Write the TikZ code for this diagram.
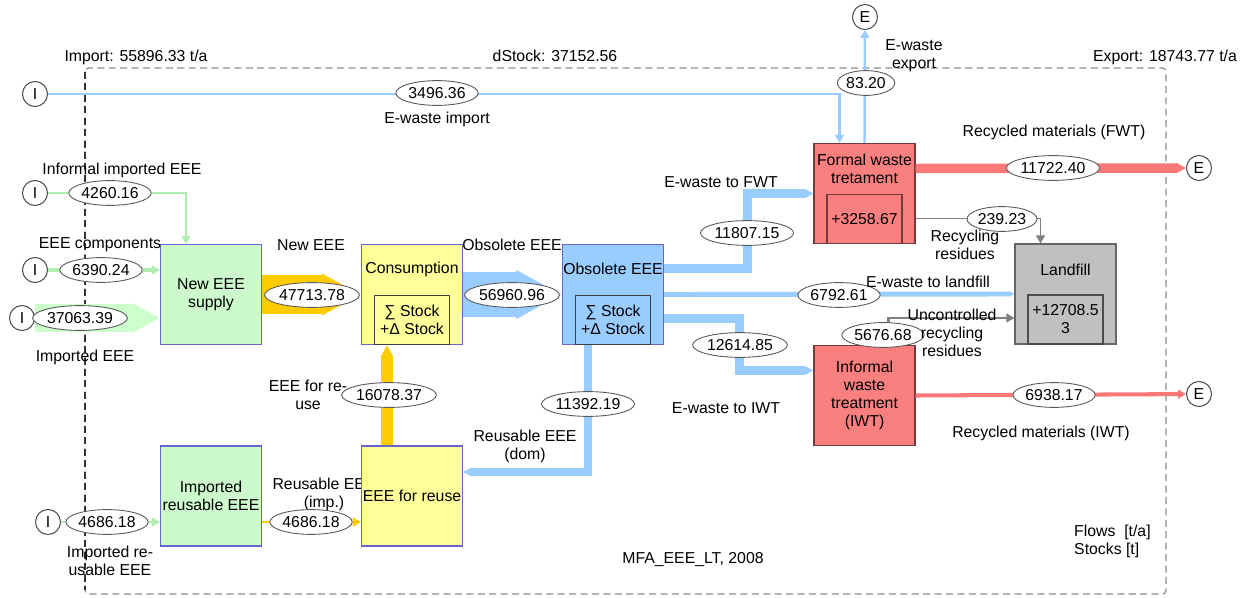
\documentclass[tikz,border=0pt]{standalone}
\usepackage{fontspec}
\setmainfont{Liberation Sans}
\usetikzlibrary{shapes.geometric,arrows.meta,calc}

\definecolor{boxgreen}{RGB}{204,250,204}
\definecolor{boxyellow}{RGB}{255,255,153}
\definecolor{boxblue}{RGB}{153,204,255}
\definecolor{boxred}{RGB}{250,128,128}
\definecolor{boxgray}{RGB}{192,192,192}
\definecolor{edgeblue}{RGB}{102,102,204}
\definecolor{edgered}{RGB}{110,60,60}
\definecolor{flowblue}{RGB}{153,204,255}
\definecolor{flowyellow}{RGB}{255,204,0}
\definecolor{flowgreen}{RGB}{204,255,204}
\definecolor{flowgreenl}{RGB}{175,238,175}
\definecolor{flowred}{RGB}{250,120,120}
\definecolor{flowgray}{RGB}{128,128,128}

\tikzset{
  procbox/.style={draw=edgeblue, line width=0.7pt, minimum width=2.02cm,
    minimum height=2cm, inner sep=0pt, align=center},
  stockbox/.style={draw=black!75, line width=0.7pt, minimum width=1.5cm,
    minimum height=0.98cm, inner sep=0pt, align=center, anchor=south},
  val/.style={ellipse, draw=black!65, fill=white, line width=0.5pt,
    inner xsep=0.3pt, inner ysep=1.8pt},
  port/.style={circle, draw=black!70, line width=0.6pt, minimum size=0.5cm,
    inner sep=0pt},
  bandtip/.style={-{Triangle[width=0pt 1,length=0pt 1]}},
  thintip/.style={-{Triangle[width=5pt,length=4.5pt]}},
}

\begin{document}
\begin{tikzpicture}[x=0.02cm, y=-0.02cm,
    every node/.style={font=\fontsize{9}{10.2}\selectfont}]
\useasboundingbox (0,0) rectangle (1245,598);

% system boundary
\draw[black!45, line width=0.7pt, dash pattern=on 4pt off 2.5pt, rounded corners=2pt]
    (85,68) rectangle (1166,594);
\draw[black!80, line width=0.7pt, dash pattern=on 4pt off 2.5pt] (85,72) -- (85,590);
\node at (136,57) {Import: 55896.33 t/a};
\node at (555,56) {dStock: 37152.56};
\node at (1165,57) {Export: 18743.77 t/a};

\node[align=center] (lreimp) at (324,494) {Reusable EEE\\(imp.)};

% processes
\node[procbox, fill=boxgreen] (newsup) at (211,294.5) {New EEE\\supply};
\node[procbox, fill=boxyellow] (cons) at (412,294.5) {};
\node (tcons) at ($(cons.north)+(0,26)$) {Consumption};
\node[stockbox, fill=boxyellow] (scons) at (cons.south) {∑ Stock\\+Δ Stock};
\node[procbox, fill=boxblue] (obs) at (613,294.5) {};
\node (tobs) at ($(obs.north)+(0,25)$) {Obsolete EEE};
\node[stockbox, fill=boxblue] (sobs) at (obs.south) {∑ Stock\\+Δ Stock};
\node[procbox, draw=edgered, fill=boxred] (fwt) at (864.5,193.5) {};
\node[align=center] (tfwt) at ($(fwt.north)+(0,26)$) {Formal waste\\tretament};
\node[stockbox, draw=edgered, fill=boxred] (sfwt) at (fwt.south) {+3258.67};
\node[procbox, draw=black!60, fill=boxgray] (land) at (1065.5,294) {};
\node (tland) at ($(land.north)+(0,26)$) {Landfill};
\node[stockbox, draw=black!70, fill=boxgray] (sland) at (land.south) {+12708.5\\3};
\node[procbox, draw=edgered, fill=boxred] (iwt) at (864.5,395.5)
    {Informal\\waste\\treatment\\(IWT)};
\node[procbox, fill=boxgreen] (irb) at (211,496) {Imported\\reusable EEE};
\node[procbox, fill=boxyellow] (reuse) at (412,496) {EEE for reuse};

% import and export
\node[port] (i1) at (35,94) {I};
\node[port] (i2) at (35,193) {I};
\node[port] (i3) at (35,270) {I};
\node[port] (i4) at (22,318) {I};
\node[port] (i5) at (48,522) {I};
\node[port] (e1) at (865,17) {E};
\node[port] (e2) at (1199,168) {E};
\node[port] (e3) at (1199,394) {E};

% flows
\draw[flowblue, line width=1.4pt, thintip] (i1) -| ($(fwt.north)+(-25,0)$);
\draw[flowblue, line width=1.4pt, thintip] (fwt.north) -- (e1);
\draw[flowgreenl, line width=1.3pt, thintip] (i2) -| ($(newsup.north)+(-25,0)$);
\draw[flowgreenl, line width=2.2pt, thintip] (i3) -- (newsup.west |- i3);
\draw[flowgreen, line width=16pt, bandtip] (i4) -- (newsup.west |- i4);
\draw[flowyellow, line width=22pt, bandtip] (newsup.east) -- (cons.west);
\draw[flowblue, line width=26pt, bandtip] (cons.east) -- (obs.west);
\draw[flowblue, line width=5pt, bandtip] ($(obs.east)+(0,-26)$)
    -| ($(fwt.west)+(-66,0)$) -- (fwt.west);
\draw[flowblue, line width=2.8pt, bandtip] (obs.east) -- (land.west);
\draw[flowblue, line width=5pt, bandtip] ($(obs.east)+(0,24)$)
    -| ($(iwt.west)+(-74,-25)$) -- ($(iwt.west)+(0,-25)$);
\draw[flowblue, line width=4.5pt, bandtip] ($(obs.south)+(-25,0)$)
    |- ($(reuse.east)+(0,-24)$);
\draw[flowyellow, line width=6.3pt, bandtip] ($(reuse.north)+(-25,0)$)
    -- ($(cons.south)+(-25,0)$);
\draw[flowyellow, line width=1.7pt, thintip] ($(irb.east)+(0,26)$)
    -- ($(reuse.west)+(0,26)$);
\draw[flowgreenl, line width=1.3pt, thintip] (i5) -- ($(irb.west)+(0,26)$);
\draw[flowred, line width=5.4pt, bandtip] ($(fwt.east)+(0,-25)$) -- (e2);
\draw[flowred, line width=2.3pt, thintip] (iwt.east) -- (e3);
\draw[flowgray, line width=0.9pt, thintip] ($(fwt.east)+(0,25)$)
    -| ($(land.north)+(-25,0)$);
\draw[flowgray, line width=1.7pt, thintip] ($(iwt.north)+(24,0)$)
    |- ($(land.west)+(0,24)$);

% values
\node[val] (v1) at (437,93) {3496.36};
\node[val] (v2) at (866,83) {83.20};
\node[val] (v3) at (110,193) {4260.16};
\node[val] (v4) at (101,270) {6390.24};
\node[val] (v5) at (80,318) {37063.39};
\node[val] (v6) at (312,295) {47713.78};
\node[val] (v7) at (512,295) {56960.96};
\node[val] (v8) at (747,233) {11807.15};
\node[val] (v9) at (839,295) {6792.61};
\node[val] (v10) at (740,345) {12614.85};
\node[val] (v11) at (588,404) {11392.19};
\node[val] (v12) at (389,395) {16078.37};
\node[val] (v13) at (107,522) {4686.18};
\node[val] (v14) at (311,522) {4686.18};
\node[val] (v15) at (1053,168) {11722.40};
\node[val] (v16) at (1002,219) {239.23};
\node[val] (v17) at (883,335) {5676.68};
\node[val] (v18) at (1054,395) {6938.17};

% flow names
\node (l1) at (437,119) {E-waste import};
\node[align=center] (l2) at (914,56) {E-waste\\export};
\node (l3) at (122,170) {Informal imported EEE};
\node (l4) at (100,245) {EEE components};
\node (l5) at (85,357) {Imported EEE};
\node (l6) at (311,245) {New EEE};
\node (l7) at (512,245) {Obsolete EEE};
\node (l8) at (721,182) {E-waste to FWT};
\node (l9) at (928,282) {E-waste to landfill};
\node (l10) at (726,408) {E-waste to IWT};
\node[align=center] (l11) at (525,446) {Reusable EEE\\(dom)};
\node[align=center] (l12) at (308,395) {EEE for re-\\use};
\node[align=center] (l13) at (110,561) {Imported re-\\usable EEE};
\node (l14) at (1054,132) {Recycled materials (FWT)};
\node[align=center] (l15) at (965,245) {Recycling\\residues};
\node[align=center] (l16) at (952,333) {Uncontrolled\\recycling\\residues};
\node (l17) at (1041,433) {Recycled materials (IWT)};
\node (ltitle) at (693,560) {MFA\_EEE\_LT, 2008};
\node[align=left, anchor=west] (lunits) at (1068,541) {Flows\ \ [t/a]\\Stocks [t]};
\end{tikzpicture}
\end{document}
